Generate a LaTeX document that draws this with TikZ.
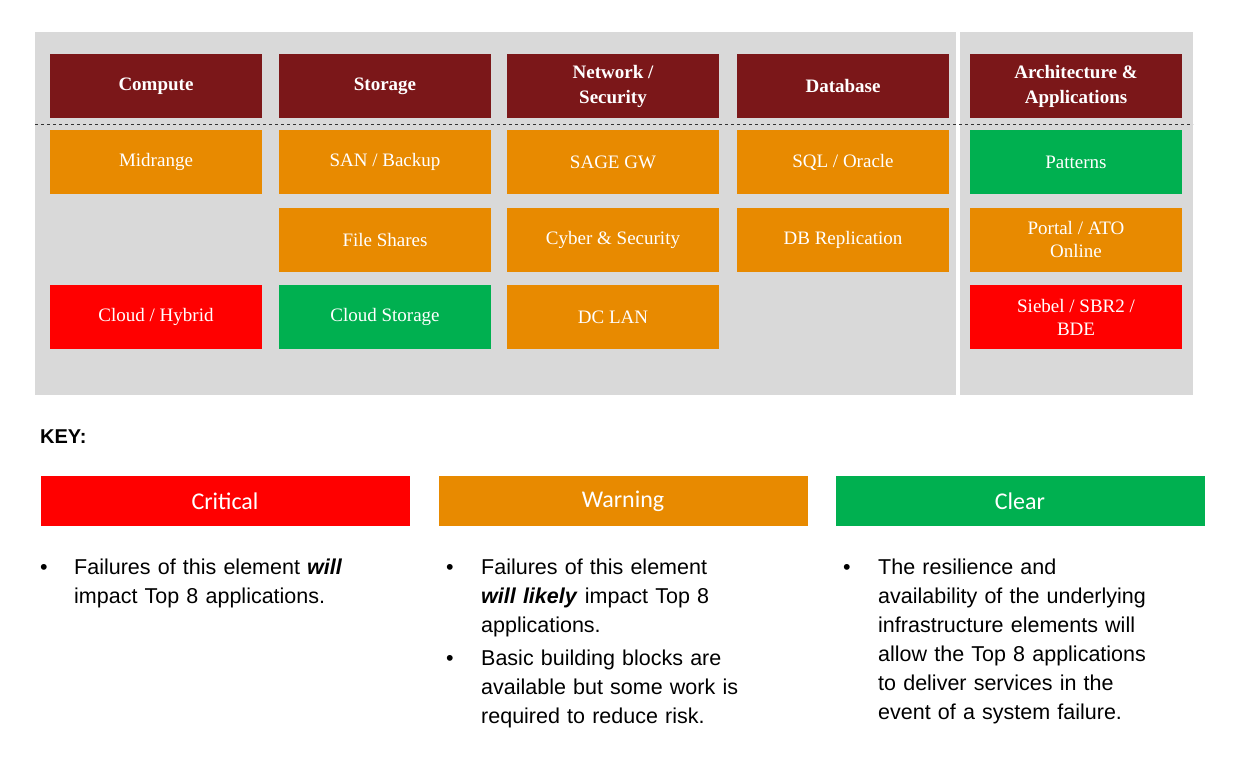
\documentclass[tikz,border=0pt]{standalone}
\usepackage{fontspec}
\setmainfont{Liberation Serif}
\newfontfamily\keyfont{Carlito}
\newfontfamily\bulletfont{Liberation Sans}
\usepackage{xcolor}
\definecolor{headred}{HTML}{7B1719}
\definecolor{warnorange}{HTML}{E88A00}
\definecolor{clrgreen}{HTML}{00B050}
\definecolor{critred}{HTML}{FF0000}
\definecolor{panelgray}{HTML}{D9D9D9}
\begin{document}
\begin{tikzpicture}[x=1pt,y=-1pt,
  cell/.style={minimum width=212pt, minimum height=64pt, inner sep=0pt, text=white,
    align=center, font=\fontsize{19}{23}\selectfont},
  head/.style={cell, fill=headred, font=\fontsize{19}{25}\selectfont\bfseries},
  warn/.style={cell, fill=warnorange},
  crit/.style={cell, fill=critred},
  clr/.style={cell, fill=clrgreen},
  keybox/.style={minimum width=369pt, minimum height=50pt, inner sep=0pt, text=white,
    font=\keyfont\fontsize{24}{28}\selectfont},
  bullets/.style={anchor=north west, text width=340pt, align=left, inner sep=0pt,
    font=\bulletfont\fontsize{21.5}{29}\selectfont}
  ]
  \useasboundingbox (0,0) rectangle (1240,773);
  % panel
  \fill[panelgray] (35,32) rectangle (1193,395);
  \fill[white] (956,32) rectangle (960,395);
  \draw[dashed, black!80, thick] (35,124) -- (1193,124);
  % headers
  \node[head] (compute) at (156,86) {Compute};
  \node[head] (storage) at (385,86) {Storage};
  \node[head] (network) at (613,86) {Network /\\Security};
  \node[head] (database) at (843,86) {Database};
  \node[head] (arch) at (1076,86) {Architecture \&\\Applications};
  % first row
  \node[warn] (midrange) at (156,162) {Midrange};
  \node[warn] (san) at (385,162) {SAN / Backup};
  \node[warn] (sage) at (613,162) {SAGE GW};
  \node[warn] (sql) at (843,162) {SQL / Oracle};
  \node[clr] (patterns) at (1076,162) {Patterns};
  % second row
  \node[warn] (shares) at (385,240) {File Shares};
  \node[warn] (cyber) at (613,240) {Cyber \& Security};
  \node[warn] (replication) at (843,240) {DB Replication};
  \node[warn] (portal) at (1076,240) {Portal / ATO\\Online};
  % third row
  \node[crit] (cloud) at (156,317) {Cloud / Hybrid};
  \node[clr] (cloudstore) at (385,317) {Cloud Storage};
  \node[warn] (lan) at (613,317) {DC LAN};
  \node[crit] (siebel) at (1076,317) {Siebel / SBR2 /\\BDE};
  % key
  \node[anchor=west, inner sep=0pt, font=\bulletfont\bfseries\fontsize{20}{24}\selectfont]
    (key) at (40,437) {KEY:};
  \node[keybox, fill=critred] (critical) at (225,501) {Critical};
  \node[keybox, fill=warnorange] (warning) at (623,501) {Warning};
  \node[keybox, fill=clrgreen] (clear) at (1020,501) {Clear};
  \node[bullets] (critnote) at (40,559) {%
    \makebox[34pt][l]{\textbullet}Failures of this element \textbf{\textit{will}}\\
    \hspace*{34pt}impact Top 8 applications.};
  \node[bullets] (warnnote) at (446,559) {%
    \makebox[35pt][l]{\textbullet}Failures of this element\\
    \hspace*{35pt}\textbf{\textit{will likely}} impact Top 8\\
    \hspace*{35pt}applications.\\[4pt]
    \makebox[35pt][l]{\textbullet}Basic building blocks are\\
    \hspace*{35pt}available but some work is\\
    \hspace*{35pt}required to reduce risk.};
  \node[bullets] (clrnote) at (843,559) {%
    \makebox[35pt][l]{\textbullet}The resilience and\\
    \hspace*{35pt}availability of the underlying\\
    \hspace*{35pt}infrastructure elements will\\
    \hspace*{35pt}allow the Top 8 applications\\
    \hspace*{35pt}to deliver services in the\\
    \hspace*{35pt}event of a system failure.};
\end{tikzpicture}
\end{document}
